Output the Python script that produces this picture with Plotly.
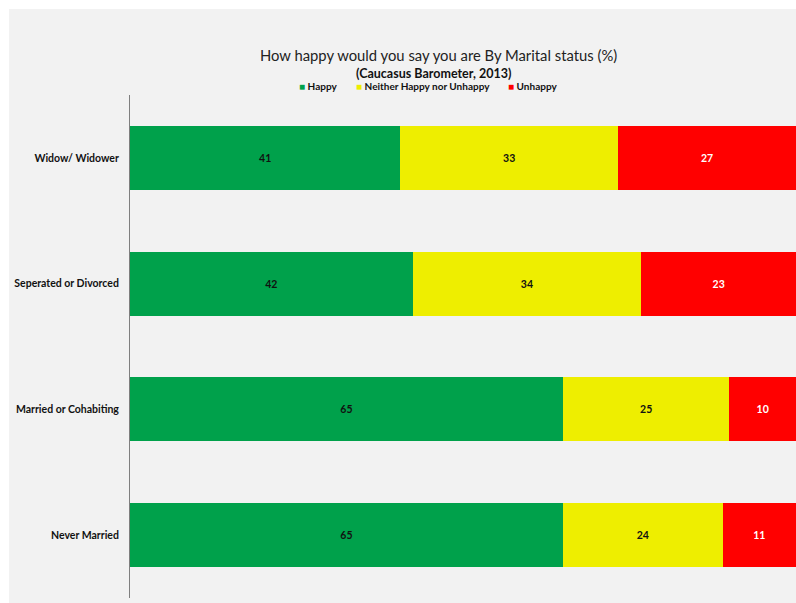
import plotly.graph_objects as go

categories = ["Widow/ Widower", "Seperated or Divorced", "Married or Cohabiting", "Never Married"]
happy = [41, 42, 65, 65]
neither = [33, 34, 25, 24]
unhappy = [27, 23, 10, 11]
series_names = ["Happy", "Neither Happy nor Unhappy", "Unhappy"]
colors = ["#00A14B", "#EEEE00", "#FF0000"]
text_colors = ["#111111", "#111111", "#FFFFFF"]

W, H = 796, 603
L, R, T, B = 130, 0, 95, 5
pw, ph = W - L - R, H - T - B

def px_x(px):
    return (px - L) / pw

def px_y(py):
    return 1 + (T - py) / ph

fig = go.Figure()
for name, vals, c, tc in zip(series_names, [happy, neither, unhappy], colors, text_colors):
    fig.add_trace(go.Bar(
        y=categories, x=vals, name=name, orientation="h",
        marker=dict(color=c, line=dict(width=0)),
        text=[str(v) for v in vals], textposition="inside",
        insidetextanchor="middle",
        textfont=dict(family="Lato", size=10.5, color=tc, weight="bold"),
        showlegend=False,
    ))

fig.update_layout(
    width=W, height=H,
    margin=dict(l=L, r=R, t=T, b=B),
    barmode="stack", barnorm="percent", bargap=0.49,
    paper_bgcolor="white", plot_bgcolor="rgba(0,0,0,0)",
    xaxis=dict(range=[0, 100], visible=False),
    yaxis=dict(categoryorder="array", categoryarray=categories, autorange="reversed",
               showline=True, linecolor="#7f7f7f", linewidth=1, showgrid=False,
               ticks="", ticklabelstandoff=8,
               tickfont=dict(family="Lato", size=10.5, color="#111111", weight="bold")),
    shapes=[dict(type="rect", xref="paper", yref="paper", layer="below",
                 x0=px_x(9), x1=1.01, y0=-0.02, y1=px_y(9),
                 fillcolor="#F2F2F2", line=dict(width=0))],
    font=dict(family="Lato"),
)

fig.add_annotation(text="How happy would you say you are By Marital status (%)",
                   xref="paper", yref="paper", x=px_x(438), y=px_y(55),
                   xanchor="center", yanchor="middle", showarrow=False,
                   font=dict(family="Lato", size=14.8, color="#222222"))
fig.add_annotation(text="<b>(Caucasus Barometer, 2013)</b>",
                   xref="paper", yref="paper", x=px_x(433), y=px_y(73),
                   xanchor="center", yanchor="middle", showarrow=False,
                   font=dict(family="Lato", size=12.5, color="#111111"))
legend_x = [297, 354, 506]
for name, c, lx in zip(series_names, colors, legend_x):
    fig.add_annotation(text=f"<span style='color:{c}'>■</span> <b>{name}</b>",
                       xref="paper", yref="paper", x=px_x(lx), y=px_y(86),
                       xanchor="left", yanchor="middle", showarrow=False,
                       font=dict(family="Lato", size=10, color="#111111"))

fig.write_html("out.html")
